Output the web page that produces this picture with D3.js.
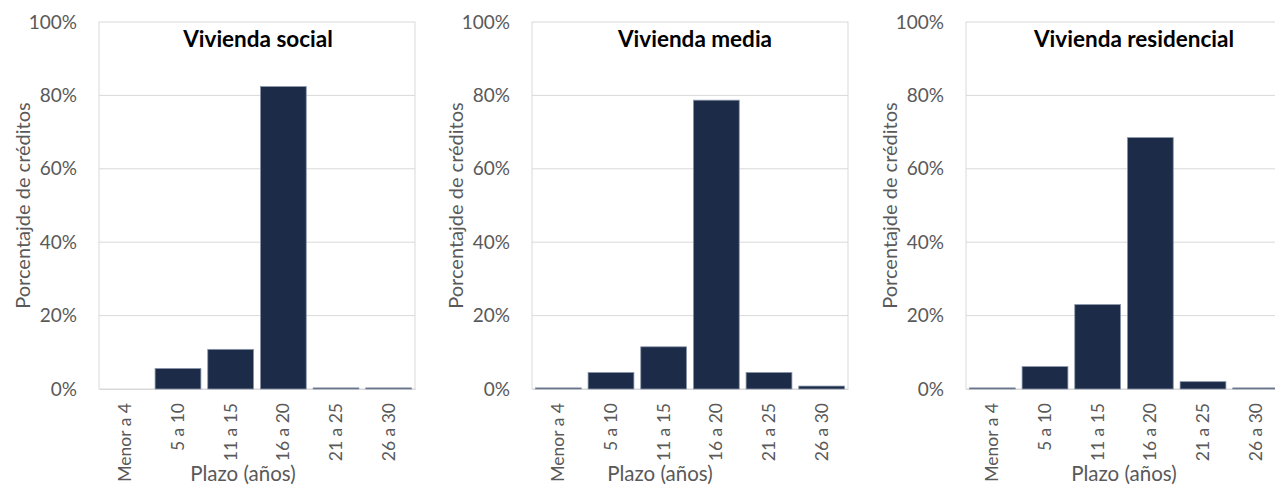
<!DOCTYPE html>
<html>
<head>
<meta charset="utf-8">
<script src="https://cdn.jsdelivr.net/npm/d3@7"></script>
<style>
    body { margin: 0; background: #fff; }
    text { font-family: Lato, "Open Sans", sans-serif; }
</style>
</head>
<body>
<div id="chart"></div>
<script>

// categories (x axis)
const categories = ["Menor a 4", "5 a 10", "11 a 15", "16 a 20", "21 a 25", "26 a 30"];

// percentage of credits per term, one list per panel
const socialValues = [0, 5.6, 10.8, 82.4, 0.3, 0.3];
const mediaValues = [0.3, 4.5, 11.5, 78.7, 4.5, 0.8];
const residencialValues = [0.3, 6.1, 23.0, 68.5, 2.0, 0.3];

const panelTitles = ["Vivienda social", "Vivienda media", "Vivienda residencial"];
const yTicks = [0, 20, 40, 60, 80, 100];
const yAxisTitle = "Porcentajde de créditos";
const xAxisTitle = "Plazo (años)";


class BarPanel {

    constructor(_svg, _data, _title, _layout) {
        this.svg = _svg;
        this.data = _data;
        this.title = _title;
        this.layout = _layout;

        this.initVis();
    }

    initVis() {
        let vis = this;

        vis.width = 316;
        vis.height = 367;

        vis.g = vis.svg.append("g")
            .attr("transform", `translate(${vis.layout.left}, 22)`);

        vis.x = d3.scaleBand()
            .domain(categories)
            .range([0, vis.width])
            .paddingInner(0.13)
            .paddingOuter(0.065);

        vis.y = d3.scaleLinear()
            .domain([0, 100])
            .range([vis.height, 0]);

        // gridlines
        vis.g.append("g")
            .selectAll("line")
            .data(yTicks.filter(d => d > 0 && d < 100))
            .join("line")
            .attr("x1", 0)
            .attr("x2", vis.width)
            .attr("y1", d => vis.y(d))
            .attr("y2", d => vis.y(d))
            .attr("stroke", "#d9d9d9")
            .attr("stroke-width", 1);

        // plot area border
        vis.g.append("rect")
            .attr("x", 0)
            .attr("y", 0)
            .attr("width", vis.width)
            .attr("height", vis.height)
            .attr("fill", "none")
            .attr("stroke", "#d9d9d9")
            .attr("stroke-width", 1);

        // y axis
        let yAxis = d3.axisLeft(vis.y)
            .tickValues(yTicks)
            .tickFormat(d => d + "%")
            .tickSize(0)
            .tickPadding(22);

        vis.g.append("g")
            .attr("class", "y-axis")
            .call(yAxis)
            .call(g => g.select(".domain").remove())
            .selectAll("text")
            .attr("fill", "#595959")
            .style("font-size", "19px");

        // x axis, labels rotated
        let xAxis = d3.axisBottom(vis.x).tickSize(0);

        vis.g.append("g")
            .attr("class", "x-axis")
            .attr("transform", `translate(0, ${vis.height})`)
            .call(xAxis)
            .call(g => g.select(".domain").attr("stroke", "#d9d9d9"))
            .selectAll("text")
            .attr("fill", "#595959")
            .style("font-size", "17.5px")
            .attr("text-anchor", "end")
            .attr("dy", "0.35em")
            .attr("transform", "translate(0, 14) rotate(-90)")
            .attr("x", 0)
            .attr("y", 0);

        // axis titles
        vis.g.append("text")
            .attr("transform", `translate(${-76}, ${vis.height / 2}) rotate(-90)`)
            .attr("text-anchor", "middle")
            .attr("dy", "0.35em")
            .attr("fill", "#595959")
            .style("font-size", "20px")
            .text(yAxisTitle);

        vis.g.append("text")
            .attr("x", vis.layout.xTitle)
            .attr("y", 459)
            .attr("text-anchor", "middle")
            .attr("fill", "#595959")
            .style("font-size", "20.5px")
            .text(xAxisTitle);

        // panel title
        vis.g.append("text")
            .attr("x", vis.layout.title)
            .attr("y", 25)
            .attr("text-anchor", "middle")
            .attr("fill", "#000")
            .style("font-size", "22.5px")
            .style("font-weight", "bold")
            .text(vis.title);

        this.updateVis();
    }

    updateVis() {
        let vis = this;

        vis.g.append("g")
            .attr("class", "bars")
            .selectAll("rect")
            .data(vis.data.map((v, i) => ({cat: categories[i], value: v})))
            .join("rect")
            .attr("x", d => vis.x(d.cat))
            .attr("width", vis.x.bandwidth())
            .attr("y", d => vis.y(d.value))
            .attr("height", d => vis.height - vis.y(d.value))
            .attr("fill", "#1b2b48")
            .attr("stroke", d => d.value > 0 ? "#8a96ab" : "none")
            .attr("stroke-width", 0.8);
    }
}

let svg = d3.select("#chart").append("svg")
    .attr("width", 1275)
    .attr("height", 487);

new BarPanel(svg, socialValues, panelTitles[0], {left: 99, xTitle: 144, title: 159});
new BarPanel(svg, mediaValues, panelTitles[1], {left: 532, xTitle: 128, title: 163});
new BarPanel(svg, residencialValues, panelTitles[2], {left: 966, xTitle: 158, title: 168});

</script>
</body>
</html>
